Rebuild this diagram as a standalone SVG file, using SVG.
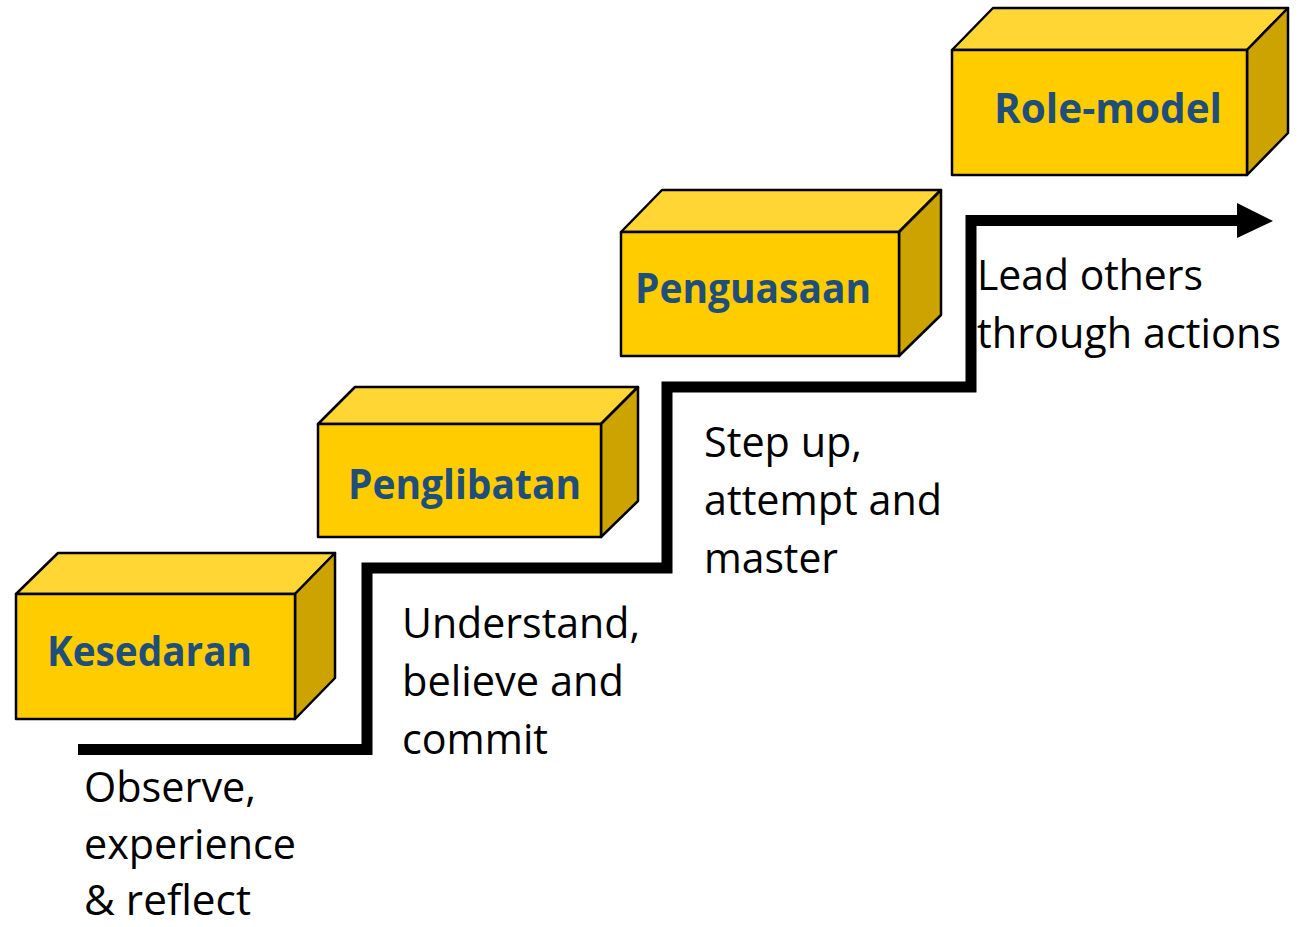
<svg xmlns="http://www.w3.org/2000/svg" width="1299" height="927" viewBox="0 0 1299 927">
<style>
.front{fill:#FFCC00;stroke:#000;stroke-width:2.5;stroke-linejoin:round}
.top{fill:#FFD633;stroke:#000;stroke-width:2.5;stroke-linejoin:round}
.side{fill:#CCA300;stroke:#000;stroke-width:2.5;stroke-linejoin:round}
.lbl{font-family:"Open Sans","Noto Sans",sans-serif;font-weight:bold;font-size:42px;fill:#1F4E7A}
.desc{font-family:"Open Sans","Noto Sans",sans-serif;font-size:42px;fill:#000}
.stair{fill:none;stroke:#000;stroke-width:11;stroke-linejoin:miter}
</style>
<rect width="1299" height="927" fill="#fff"/>
<g id="connectors">
<path class="stair" d="M78,749.5 H367 V568 H667 V387 H971 V220.5 H1242"/>
<polygon points="1237,203 1273,221 1237,238" fill="#000"/>
</g>
<g id="kesedaran">
<polygon class="top" points="16,594 58,553 335,553 295,594"/>
<polygon class="side" points="295,594 335,553 335,678 295,719"/>
<rect class="front" x="16" y="594" width="279" height="125"/>
<text class="lbl" x="47" y="666" textLength="205" lengthAdjust="spacingAndGlyphs">Kesedaran</text>
</g>
<g id="penglibatan">
<polygon class="top" points="318,424 355,387 638,387 601,424"/>
<polygon class="side" points="601,424 638,387 638,501 601,537"/>
<rect class="front" x="318" y="424" width="283" height="113"/>
<text class="lbl" x="348" y="499" textLength="233" lengthAdjust="spacingAndGlyphs">Penglibatan</text>
</g>
<g id="penguasaan">
<polygon class="top" points="621,232 662,190 941,190 899,232"/>
<polygon class="side" points="899,232 941,190 941,315 899,356"/>
<rect class="front" x="621" y="232" width="278" height="124"/>
<text class="lbl" x="635" y="303" textLength="236" lengthAdjust="spacingAndGlyphs">Penguasaan</text>
</g>
<g id="role-model">
<polygon class="top" points="952,50 993,8 1288,8 1247,50"/>
<polygon class="side" points="1247,50 1288,8 1288,133 1247,175"/>
<rect class="front" x="952" y="50" width="295" height="125"/>
<text class="lbl" x="994" y="123" textLength="228" lengthAdjust="spacingAndGlyphs">Role-model</text>
</g>
<g id="labels">
<text class="desc" x="84" y="802" textLength="172" lengthAdjust="spacingAndGlyphs">Observe,</text>
<text class="desc" x="84" y="859" textLength="212" lengthAdjust="spacingAndGlyphs">experience</text>
<text class="desc" x="84" y="915" textLength="167" lengthAdjust="spacingAndGlyphs">&amp; reflect</text>
<text class="desc" x="402" y="638" textLength="238" lengthAdjust="spacingAndGlyphs">Understand,</text>
<text class="desc" x="402" y="696" textLength="222" lengthAdjust="spacingAndGlyphs">believe and</text>
<text class="desc" x="402" y="754" textLength="146" lengthAdjust="spacingAndGlyphs">commit</text>
<text class="desc" x="704" y="457" textLength="158" lengthAdjust="spacingAndGlyphs">Step up,</text>
<text class="desc" x="704" y="515" textLength="238" lengthAdjust="spacingAndGlyphs">attempt and</text>
<text class="desc" x="704" y="573" textLength="134" lengthAdjust="spacingAndGlyphs">master</text>
<text class="desc" x="977" y="290" textLength="226" lengthAdjust="spacingAndGlyphs">Lead others</text>
<text class="desc" x="977" y="348" textLength="304" lengthAdjust="spacingAndGlyphs">through actions</text>
</g>
</svg>
